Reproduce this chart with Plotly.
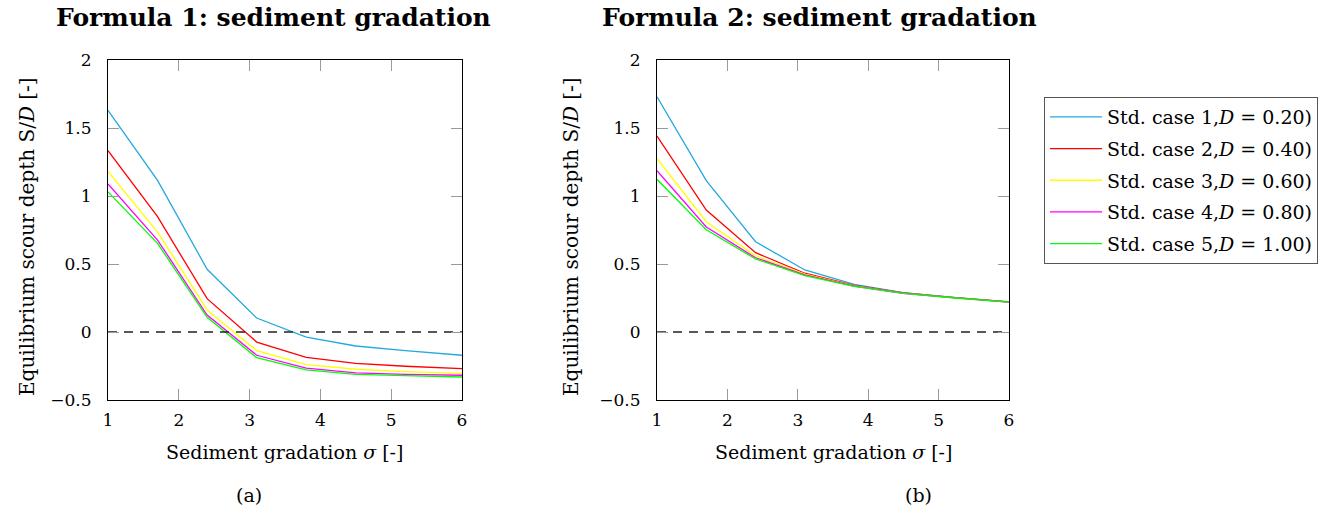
import plotly.graph_objects as go

# Sediment gradation sigma [-]
sigma = [1.0, 1.7, 2.4, 3.1, 3.8, 4.5, 5.2, 5.9, 6.0]

case_names = [
    "Std. case 1,<i>D</i> = 0.20)",
    "Std. case 2,<i>D</i> = 0.40)",
    "Std. case 3,<i>D</i> = 0.60)",
    "Std. case 4,<i>D</i> = 0.80)",
    "Std. case 5,<i>D</i> = 1.00)",
]
case_colors = ["#23A9DC", "#FF0000", "#FFFF00", "#FF00FF", "#00FF00"]

# Formula 1: equilibrium scour depth S/D
f1_case1 = [1.63, 1.115, 0.461, 0.103, -0.037, -0.103, -0.137, -0.168, -0.171]
f1_case2 = [1.333, 0.848, 0.245, -0.074, -0.186, -0.230, -0.252, -0.268, -0.270]
f1_case3 = [1.18, 0.735, 0.162, -0.137, -0.240, -0.274, -0.292, -0.302, -0.304]
f1_case4 = [1.088, 0.676, 0.125, -0.171, -0.265, -0.301, -0.311, -0.317, -0.318]
f1_case5 = [1.03, 0.652, 0.108, -0.189, -0.279, -0.311, -0.321, -0.330, -0.331]

# Formula 2: equilibrium scour depth S/D
f2_case1 = [1.73, 1.113, 0.664, 0.456, 0.350, 0.290, 0.255, 0.225, 0.221]
f2_case2 = [1.441, 0.897, 0.583, 0.432, 0.342, 0.287, 0.254, 0.224, 0.221]
f2_case3 = [1.277, 0.811, 0.559, 0.425, 0.339, 0.286, 0.253, 0.224, 0.220]
f2_case4 = [1.186, 0.772, 0.546, 0.420, 0.337, 0.285, 0.253, 0.224, 0.220]
f2_case5 = [1.123, 0.752, 0.537, 0.414, 0.335, 0.284, 0.252, 0.223, 0.220]

x_ticks = [1, 2, 3, 4, 5, 6]
y_ticks = [-0.5, 0, 0.5, 1, 1.5, 2]
y_ticktext = ["\u22120.5", "0", "0.5", "1", "1.5", "2"]

W, H = 1338, 516
SERIF = "DejaVu Serif"

fig = go.Figure()

formula1 = [f1_case1, f1_case2, f1_case3, f1_case4, f1_case5]
formula2 = [f2_case1, f2_case2, f2_case3, f2_case4, f2_case5]

for i, (name, color) in enumerate(zip(case_names, case_colors)):
    fig.add_trace(go.Scatter(
        x=sigma, y=formula1[i], mode="lines", name=name,
        line=dict(color=color, width=1.3), legendgroup=f"c{i}",
        xaxis="x", yaxis="y", showlegend=False,
    ))
    fig.add_trace(go.Scatter(
        x=sigma, y=formula2[i], mode="lines", name=name,
        line=dict(color=color, width=1.3), legendgroup=f"c{i}",
        xaxis="x2", yaxis="y2", showlegend=True,
    ))

# zero reference lines
for xa, ya in (("x", "y"), ("x2", "y2")):
    fig.add_trace(go.Scatter(
        x=[1, 6], y=[0, 0], mode="lines", showlegend=False, hoverinfo="skip",
        line=dict(color="#222222", width=1.3, dash="9px,7px"),
        xaxis=xa, yaxis=ya,
    ))

tick_font = dict(family=SERIF, size=17, color="black")
axis_common = dict(
    showline=True, linecolor="black", linewidth=1.2, mirror="allticks",
    ticks="inside", ticklen=11, tickcolor="#9a9a9a", tickwidth=1.2,
    showgrid=False, zeroline=False, tickfont=tick_font, automargin=False,
)

y_top, y_bot = 1 - 60 / H, 1 - 400 / H
fig.update_layout(
    template="none",
    width=W, height=H, autosize=False,
    margin=dict(l=0, r=0, t=0, b=0, pad=0),
    paper_bgcolor="white", plot_bgcolor="white",
    xaxis=dict(domain=[108 / W, 462 / W], range=[1, 6], tickvals=x_ticks,
               anchor="y", ticklabelstandoff=4, **axis_common),
    yaxis=dict(domain=[y_bot, y_top], range=[-0.5, 2], tickvals=y_ticks,
               ticktext=y_ticktext, anchor="x", ticklabelstandoff=12, **axis_common),
    xaxis2=dict(domain=[657 / W, 1009 / W], range=[1, 6], tickvals=x_ticks,
                anchor="y2", ticklabelstandoff=4, **axis_common),
    yaxis2=dict(domain=[y_bot, y_top], range=[-0.5, 2], tickvals=y_ticks,
                ticktext=y_ticktext, anchor="x2", ticklabelstandoff=12, **axis_common),
    legend=dict(
        x=1044 / W, y=1 - 97 / H, xanchor="left", yanchor="top",
        bordercolor="#555555", borderwidth=1, bgcolor="white",
        font=dict(family=SERIF, size=19, color="black"),
        traceorder="grouped", tracegroupgap=4, itemwidth=52,
    ),
    showlegend=True,
)

def label(text, x, y, size=19, bold=False, angle=0):
    fig.add_annotation(
        text=f"<b>{text}</b>" if bold else text,
        x=x / W, y=1 - y / H, xref="paper", yref="paper",
        showarrow=False, textangle=angle, xanchor="center", yanchor="middle",
        font=dict(family=SERIF, size=size, color="black"),
    )

label("Formula 1: sediment gradation", 273, 18, size=25, bold=True)
label("Formula 2: sediment gradation", 819, 18, size=25, bold=True)
label("Equilibrium scour depth S/<i>D</i> [-]", 27, 237, size=20, angle=-90)
label("Equilibrium scour depth S/<i>D</i> [-]", 571, 237, size=20, angle=-90)
label("Sediment gradation <i>\u03c3</i> [-]", 284, 452)
label("Sediment gradation <i>\u03c3</i> [-]", 833, 452)
label("(a)", 249, 495)
label("(b)", 918, 495)

fig.write_html("out.html")
